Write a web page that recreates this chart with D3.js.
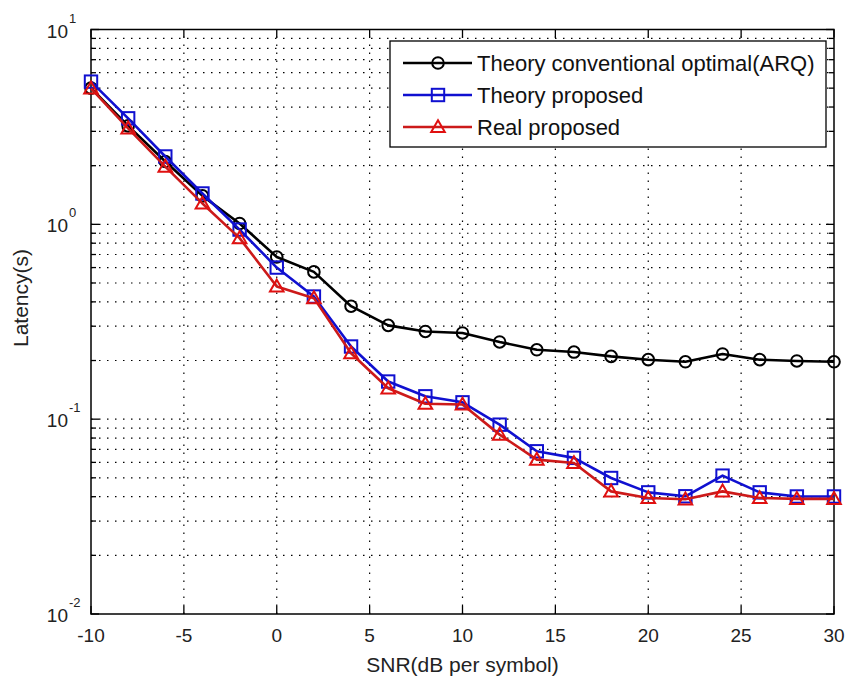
<!DOCTYPE html>
<html>
<head>
<meta charset="utf-8">
<script src="https://cdn.jsdelivr.net/npm/d3@7"></script>
<style>
  html, body { margin: 0; padding: 0; background: #fff; }
  svg { display: block; font-family: "Liberation Sans", Arial, sans-serif; }
</style>
</head>
<body>
<svg id="chart" width="848" height="683"></svg>
<script>
// SNR points (dB per symbol)
const snr = [-10, -8, -6, -4, -2, 0, 2, 4, 6, 8, 10, 12, 14, 16, 18, 20, 22, 24, 26, 28, 30];

// Latency (s) per scheme
const arqTheory = [5.0, 3.2, 2.1, 1.40, 1.01, 0.68, 0.57, 0.38, 0.303, 0.282, 0.277, 0.249, 0.227, 0.221, 0.210, 0.202, 0.197, 0.216, 0.202, 0.199, 0.197];
const proposedTheory = [5.4, 3.5, 2.23, 1.44, 0.94, 0.60, 0.426, 0.236, 0.156, 0.131, 0.122, 0.0937, 0.0684, 0.0633, 0.0499, 0.0421, 0.0402, 0.0513, 0.0421, 0.0401, 0.0401];
const proposedReal = [4.99, 3.11, 1.98, 1.28, 0.85, 0.48, 0.418, 0.218, 0.144, 0.120, 0.119, 0.0833, 0.062, 0.0596, 0.0426, 0.0394, 0.0388, 0.0426, 0.0394, 0.039, 0.039];

const seriesNames = ["Theory conventional optimal(ARQ)", "Theory proposed", "Real proposed"];

const xTicks = [-10, -5, 0, 5, 10, 15, 20, 25, 30];
const yDecades = [-2, -1, 0, 1];

const svg = d3.select("#chart");
const plot = { left: 91, right: 834, top: 29.5, bottom: 614 };

const x = d3.scaleLinear().domain([-10, 30]).range([plot.left, plot.right]);
const y = d3.scaleLog().domain([0.01, 10]).range([plot.bottom, plot.top]);

// minor log positions: 1..9 times each decade
const yAll = [];
for (let e = -2; e < 1; e++) for (let m = 1; m <= 9; m++) yAll.push(m * Math.pow(10, e));
yAll.push(10);
const yMinor = yAll.filter(v => !yDecades.some(d => Math.abs(Math.log10(v) - d) < 1e-9));

// dotted grid at major x ticks and every log step
const grid = svg.append("g").attr("stroke", "#000").attr("stroke-width", 1.2)
  .attr("stroke-dasharray", "1.5,6.5").attr("fill", "none");
xTicks.filter(t => t > -10 && t < 30).forEach(t => {
  grid.append("line").attr("x1", x(t)).attr("x2", x(t)).attr("y1", plot.bottom).attr("y2", plot.top);
});
yAll.filter(v => v > 0.01 && v < 10).forEach(v => {
  grid.append("line").attr("x1", plot.left).attr("x2", plot.right).attr("y1", y(v)).attr("y2", y(v));
});

// box frame
svg.append("rect").attr("x", plot.left).attr("y", plot.top)
  .attr("width", plot.right - plot.left).attr("height", plot.bottom - plot.top)
  .attr("fill", "none").attr("stroke", "#000").attr("stroke-width", 1.5);

// ticks (inward, on all four sides)
const tk = svg.append("g").attr("stroke", "#000").attr("stroke-width", 1.3);
const majLen = 8, minLen = 5;
xTicks.forEach(t => {
  tk.append("line").attr("x1", x(t)).attr("x2", x(t)).attr("y1", plot.bottom).attr("y2", plot.bottom - majLen);
  tk.append("line").attr("x1", x(t)).attr("x2", x(t)).attr("y1", plot.top).attr("y2", plot.top + majLen);
});
yDecades.forEach(d => {
  const v = Math.pow(10, d);
  tk.append("line").attr("x1", plot.left).attr("x2", plot.left + majLen).attr("y1", y(v)).attr("y2", y(v));
  tk.append("line").attr("x1", plot.right).attr("x2", plot.right - majLen).attr("y1", y(v)).attr("y2", y(v));
});
yMinor.forEach(v => {
  tk.append("line").attr("x1", plot.left).attr("x2", plot.left + minLen).attr("y1", y(v)).attr("y2", y(v));
  tk.append("line").attr("x1", plot.right).attr("x2", plot.right - minLen).attr("y1", y(v)).attr("y2", y(v));
});

// x tick labels
svg.append("g").selectAll("text").data(xTicks).join("text")
  .attr("x", d => x(d)).attr("y", plot.bottom + 28)
  .attr("text-anchor", "middle").attr("font-size", 19).attr("fill", "#222")
  .text(d => d);

// y tick labels as 10^n
yDecades.forEach(d => {
  const yy = y(Math.pow(10, d));
  svg.append("text").attr("x", 68).attr("y", yy + 8).attr("text-anchor", "end")
    .attr("font-size", 19).attr("fill", "#222").text("10");
  svg.append("text").attr("x", 69).attr("y", yy - 7).attr("font-size", 13).attr("fill", "#222").text(d);
});

// axis titles
svg.append("text").attr("x", (plot.left + plot.right) / 2).attr("y", 672)
  .attr("text-anchor", "middle").attr("font-size", 21).attr("fill", "#222")
  .text("SNR(dB per symbol)");
svg.append("text").attr("transform", "translate(28,298) rotate(-90)")
  .attr("text-anchor", "middle").attr("font-size", 21).attr("fill", "#222")
  .text("Latency(s)");

// series
const series = [
  { name: seriesNames[0], values: arqTheory, color: "#000", mark: "circle" },
  { name: seriesNames[1], values: proposedTheory, color: "#1010d0", mark: "square" },
  { name: seriesNames[2], values: proposedReal, color: "#e01010", line: "#cc1a1a", mark: "triangle" }
];

const line = d3.line().x(d => x(d[0])).y(d => y(d[1]));

function drawMarker(g, mark, cx, cy, color) {
  if (mark === "circle") {
    g.append("circle").attr("cx", cx).attr("cy", cy).attr("r", 5.8)
      .attr("fill", "none").attr("stroke", color).attr("stroke-width", 2);
  } else if (mark === "square") {
    g.append("rect").attr("x", cx - 6.2).attr("y", cy - 6.2).attr("width", 12.4).attr("height", 12.4)
      .attr("fill", "none").attr("stroke", color).attr("stroke-width", 2);
  } else {
    const h = 6.8;
    g.append("path").attr("d", `M${cx},${cy - h}L${cx + h},${cy + h * 0.75}L${cx - h},${cy + h * 0.75}Z`)
      .attr("fill", "none").attr("stroke", color).attr("stroke-width", 2);
  }
}

const plotG = svg.append("g");
series.forEach(s => {
  const pts = snr.map((v, i) => [v, s.values[i]]);
  plotG.append("path").attr("d", line(pts)).attr("fill", "none")
    .attr("stroke", s.line || s.color).attr("stroke-width", 2.6).attr("stroke-linejoin", "round");
  pts.forEach(p => drawMarker(plotG, s.mark, x(p[0]), y(p[1]), s.color));
});

// legend
const lg = svg.append("g");
lg.append("rect").attr("x", 390).attr("y", 41).attr("width", 436).attr("height", 106)
  .attr("fill", "#fff").attr("stroke", "#000").attr("stroke-width", 1.3);
const rowsY = [63, 95, 127];
series.forEach((s, i) => {
  const yy = rowsY[i];
  lg.append("line").attr("x1", 403).attr("x2", 472).attr("y1", yy).attr("y2", yy)
    .attr("stroke", s.line || s.color).attr("stroke-width", 2.6);
  drawMarker(lg, s.mark, 438, yy, s.color);
  lg.append("text").attr("x", 477).attr("y", yy + 8).attr("font-size", 22).attr("fill", "#111").text(s.name);
});
</script>
</body>
</html>
